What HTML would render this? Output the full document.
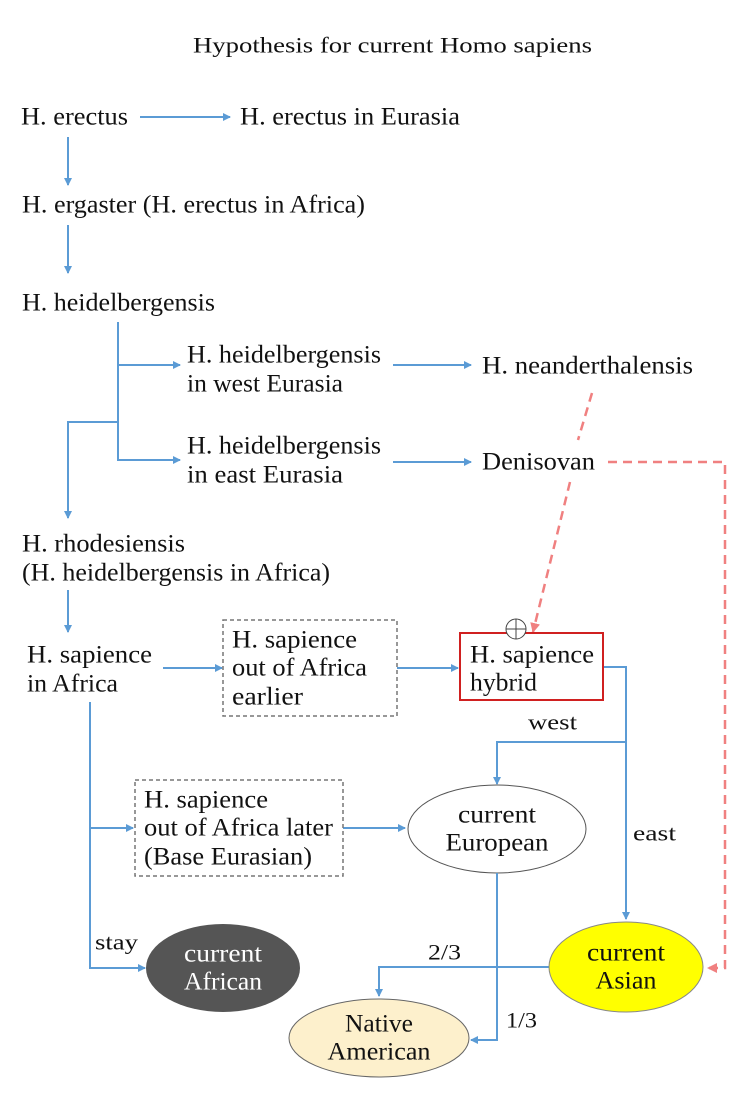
<!DOCTYPE html>
<html><head><meta charset="utf-8"><style>
html,body{margin:0;padding:0;background:#fff;}
svg{display:block;}
text{font-family:"Liberation Serif",serif;font-size:25px;fill:#111;dominant-baseline:central;}
</style></head><body>
<svg width="743" height="1115" viewBox="0 0 743 1115" xmlns="http://www.w3.org/2000/svg">
<defs>
<marker id="a" markerWidth="8" markerHeight="8" refX="7" refY="4" orient="auto" markerUnits="userSpaceOnUse"><path d="M0,0 L8,4 L0,8 z" fill="#5b9bd5"/></marker>
<marker id="r" markerWidth="10" markerHeight="10" refX="9" refY="5" orient="auto" markerUnits="userSpaceOnUse"><path d="M0,0 L10,5 L0,10 z" fill="#f08080"/></marker>
</defs>
<ellipse cx="497" cy="829" rx="89" ry="44" fill="#fff" stroke="#555" stroke-width="1"/>
<g stroke="#5b9bd5" stroke-width="2" fill="none">
<path d="M140,117 H230" marker-end="url(#a)"/>
<path d="M68,137 V185" marker-end="url(#a)"/>
<path d="M68,225 V273" marker-end="url(#a)"/>
<path d="M118,322 V460 H180" marker-end="url(#a)"/>
<path d="M118,365 H180" marker-end="url(#a)"/>
<path d="M118,422 H68 V518" marker-end="url(#a)"/>
<path d="M393,365 H471" marker-end="url(#a)"/>
<path d="M393,462 H471" marker-end="url(#a)"/>
<path d="M68,590 V632" marker-end="url(#a)"/>
<path d="M163,668 H222" marker-end="url(#a)"/>
<path d="M397,668 H458" marker-end="url(#a)"/>
<path d="M603,667 H626 V919" marker-end="url(#a)"/>
<path d="M626,742 H497 V784" marker-end="url(#a)"/>
<path d="M90,702 V968 H145" marker-end="url(#a)"/>
<path d="M90,828 H133" marker-end="url(#a)"/>
<path d="M343,828 H405" marker-end="url(#a)"/>
<path d="M549,967 H379 V996" marker-end="url(#a)"/>
<path d="M497,873 V1040 H471" marker-end="url(#a)"/>
</g>
<g stroke="#f08080" stroke-width="2.5" fill="none" stroke-dasharray="9,6">
<path d="M592,393 L578,440"/>
<path d="M570,482 L533,632" marker-end="url(#r)"/>
<path d="M608,462 H725 V968 H708" marker-end="url(#r)"/>
</g>
<rect x="223" y="620" width="174" height="96" fill="none" stroke="#777" stroke-width="1.5" stroke-dasharray="4,3"/>
<rect x="135" y="780" width="208" height="96" fill="none" stroke="#777" stroke-width="1.5" stroke-dasharray="4,3"/>
<rect x="460" y="633" width="143" height="67" fill="#fff" stroke="#d02020" stroke-width="2"/>
<circle cx="516" cy="629" r="10" fill="#fff" stroke="#444" stroke-width="1"/>
<path d="M506,629 H526 M516,619 V639" stroke="#444" stroke-width="1"/>
<ellipse cx="223" cy="968" rx="77" ry="44" fill="#555"/>
<ellipse cx="626" cy="967" rx="77" ry="45" fill="#ffff00" stroke="#888" stroke-width="1"/>
<ellipse cx="379" cy="1038" rx="90" ry="39" fill="#fdf0cc" stroke="#666" stroke-width="1"/>

<text x="193" y="45" textLength="399" lengthAdjust="spacingAndGlyphs" style="font-size:22px">Hypothesis for current Homo sapiens</text>
<text x="21" y="117" textLength="107" lengthAdjust="spacingAndGlyphs">H. erectus</text>
<text x="240" y="117" textLength="220" lengthAdjust="spacingAndGlyphs">H. erectus in Eurasia</text>
<text x="22" y="205" textLength="343" lengthAdjust="spacingAndGlyphs">H. ergaster (H. erectus in Africa)</text>
<text x="22" y="303" textLength="193" lengthAdjust="spacingAndGlyphs">H. heidelbergensis</text>
<text x="187" y="355" textLength="194" lengthAdjust="spacingAndGlyphs">H. heidelbergensis</text>
<text x="187" y="384" textLength="156" lengthAdjust="spacingAndGlyphs">in west Eurasia</text>
<text x="187" y="446" textLength="194" lengthAdjust="spacingAndGlyphs">H. heidelbergensis</text>
<text x="187" y="475" textLength="156" lengthAdjust="spacingAndGlyphs">in east Eurasia</text>
<text x="482" y="366" textLength="211" lengthAdjust="spacingAndGlyphs">H. neanderthalensis</text>
<text x="482" y="462" textLength="113" lengthAdjust="spacingAndGlyphs">Denisovan</text>
<text x="22" y="544" textLength="163" lengthAdjust="spacingAndGlyphs">H. rhodesiensis</text>
<text x="22" y="573" textLength="308" lengthAdjust="spacingAndGlyphs">(H. heidelbergensis in Africa)</text>
<text x="27" y="655" textLength="125" lengthAdjust="spacingAndGlyphs">H. sapience</text>
<text x="27" y="684" textLength="91" lengthAdjust="spacingAndGlyphs">in Africa</text>
<text x="232" y="640" textLength="125" lengthAdjust="spacingAndGlyphs">H. sapience</text>
<text x="232" y="668" textLength="135" lengthAdjust="spacingAndGlyphs">out of Africa</text>
<text x="232" y="697" textLength="71" lengthAdjust="spacingAndGlyphs">earlier</text>
<text x="470" y="655" textLength="124" lengthAdjust="spacingAndGlyphs">H. sapience</text>
<text x="470" y="683" textLength="67" lengthAdjust="spacingAndGlyphs">hybrid</text>
<text x="528" y="722" textLength="49" lengthAdjust="spacingAndGlyphs" style="font-size:22px">west</text>
<text x="633" y="833" textLength="43" lengthAdjust="spacingAndGlyphs" style="font-size:22px">east</text>
<text x="144" y="800" textLength="124" lengthAdjust="spacingAndGlyphs">H. sapience</text>
<text x="144" y="828" textLength="189" lengthAdjust="spacingAndGlyphs">out of Africa later</text>
<text x="144" y="857" textLength="168" lengthAdjust="spacingAndGlyphs">(Base Eurasian)</text>
<text x="497" y="815" text-anchor="middle" textLength="78" lengthAdjust="spacingAndGlyphs">current</text>
<text x="497" y="843" text-anchor="middle" textLength="103" lengthAdjust="spacingAndGlyphs">European</text>
<text x="95" y="942" textLength="43" lengthAdjust="spacingAndGlyphs" style="font-size:22px">stay</text>
<text x="223" y="954" text-anchor="middle" textLength="78" lengthAdjust="spacingAndGlyphs" style="fill:#fff">current</text>
<text x="223" y="982" text-anchor="middle" textLength="78" lengthAdjust="spacingAndGlyphs" style="fill:#fff">African</text>
<text x="626" y="953" text-anchor="middle" textLength="78" lengthAdjust="spacingAndGlyphs">current</text>
<text x="626" y="981" text-anchor="middle" textLength="61" lengthAdjust="spacingAndGlyphs">Asian</text>
<text x="428" y="952" textLength="33" lengthAdjust="spacingAndGlyphs" style="font-size:22px">2/3</text>
<text x="379" y="1024" text-anchor="middle" textLength="68" lengthAdjust="spacingAndGlyphs">Native</text>
<text x="379" y="1052" text-anchor="middle" textLength="103" lengthAdjust="spacingAndGlyphs">American</text>
<text x="506" y="1020" textLength="31" lengthAdjust="spacingAndGlyphs" style="font-size:22px">1/3</text>
</svg>
</body></html>
